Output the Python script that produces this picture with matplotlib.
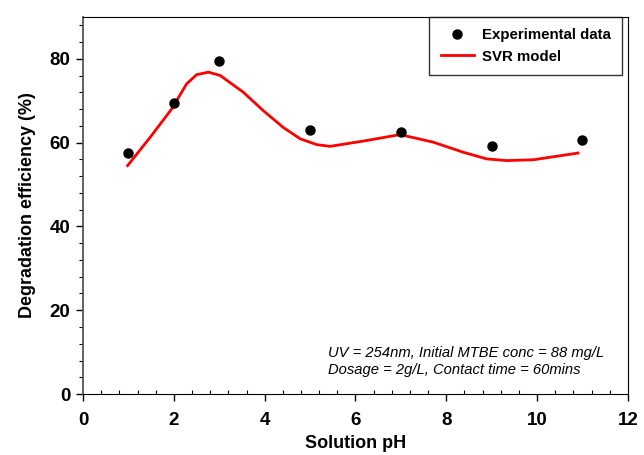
import matplotlib.pyplot as plt
from matplotlib.ticker import MultipleLocator

plt.rcParams['font.family'] = ['Liberation Sans', 'DejaVu Sans']

# Experimental data
ph_exp = [1, 2, 3, 5, 7, 9, 11]
eff_exp = [57.5, 69.4, 79.5, 63.0, 62.5, 59.1, 60.5]

# SVR model curve
ph_svr = [0.98, 1.48, 1.95, 2.28, 2.5, 2.76, 3.02, 3.53, 3.97, 4.41, 4.78, 5.15, 5.44,
          6.25, 6.98, 7.71, 8.37, 8.89, 9.33, 9.92, 10.9]
eff_svr = [54.5, 61.3, 68.0, 74.0, 76.2, 76.8, 76.0, 72.0, 67.6, 63.6, 60.9, 59.5, 59.1,
           60.5, 61.9, 60.1, 57.7, 56.1, 55.7, 55.9, 57.5]

fig = plt.figure(figsize=(6.44, 4.55), dpi=100)
ax = fig.add_axes([0.129, 0.134, 0.846, 0.829])

ax.plot(ph_exp, eff_exp, 'o', color='black', markersize=6.5, label='Experimental data', zorder=3)
ax.plot(ph_svr, eff_svr, color='red', linewidth=2, label='SVR model')

ax.set_xlim(0, 12)
ax.set_ylim(0, 90)
ax.set_xticks([0, 2, 4, 6, 8, 10, 12])
ax.set_yticks([0, 20, 40, 60, 80])
ax.xaxis.set_minor_locator(MultipleLocator(0.4))
ax.yaxis.set_minor_locator(MultipleLocator(4))
ax.tick_params(which='major', length=5, width=1, labelsize=13.5)
ax.tick_params(axis='x', which='major', pad=8)
ax.tick_params(axis='y', which='major', pad=4)
ax.tick_params(which='minor', length=3, width=0.8)
ax.tick_params(axis='x', which='minor', direction='in')
for lbl in ax.get_xticklabels() + ax.get_yticklabels():
    lbl.set_fontweight('bold')
ax.spines['left'].set_color('#555555')
ax.spines['left'].set_linewidth(1.3)

ax.set_xlabel('Solution pH', fontsize=13, fontweight='bold', labelpad=4)
ax.set_ylabel('Degradation efficiency (%)', fontsize=13, fontweight='bold', labelpad=10)

ax.text(0.45, 0.045, 'UV = 254nm, Initial MTBE conc = 88 mg/L\nDosage = 2g/L, Contact time = 60mins',
        transform=ax.transAxes, fontsize=10.6, style='italic', linespacing=1.25, va='bottom')

leg = ax.legend(loc='upper right', bbox_to_anchor=(0.989, 1.0), frameon=True, fancybox=False,
                edgecolor='black', prop={'weight': 'bold', 'size': 10.8}, borderaxespad=0.0,
                handlelength=2.2, borderpad=0.75, labelspacing=0.5, handletextpad=0.55)
leg.get_frame().set_linewidth(1)

plt.savefig('out.png', dpi=100)
